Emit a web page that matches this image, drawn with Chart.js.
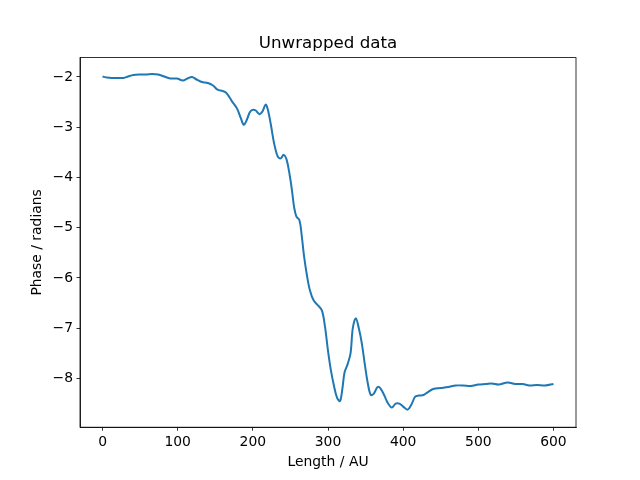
<!DOCTYPE html>
<html>
<head>
<meta charset="utf-8">
<script src="https://cdn.jsdelivr.net/npm/chart.js@4/dist/chart.umd.min.js"></script>
<style>
  html,body{margin:0;padding:0;background:#fff;}
  #wrap{width:640px;height:480px;}
</style>
</head>
<body>
<div id="wrap"><canvas id="chart" width="640" height="480"></canvas></div>
<script>
/* data */
const lengthAU = [0,6,12,20,28,34,41,50,58,66,74,82,90,99,107,113,119,125,132,140,147,153,160,165,172,179,184,188,192,197,203,209,213,217,220,224,228,233,237,241,245,249,252,255,258,262,265,268,272,276,281,287,292,296,300,304,308,312,316,319,322,326,330,333,337,341,345,349,353,357,361,366,370,375,380,385,390,395,400,406,411,416,421,427,433,440,450,460,470,480,490,500,510,518,527,539,549,559,568,578,589,600];
const phase = [-1.99,-2.01,-2.02,-2.02,-2.02,-1.99,-1.96,-1.95,-1.95,-1.94,-1.95,-1.99,-2.03,-2.03,-2.07,-2.03,-2.00,-2.05,-2.10,-2.12,-2.17,-2.25,-2.28,-2.32,-2.48,-2.63,-2.82,-2.95,-2.85,-2.68,-2.66,-2.74,-2.68,-2.55,-2.65,-2.95,-3.30,-3.58,-3.62,-3.55,-3.65,-3.95,-4.25,-4.60,-4.78,-4.85,-5.15,-5.55,-5.95,-6.25,-6.45,-6.55,-6.65,-6.97,-7.45,-7.85,-8.15,-8.38,-8.45,-8.22,-7.88,-7.72,-7.50,-7.00,-6.80,-7.00,-7.30,-7.72,-8.10,-8.33,-8.30,-8.17,-8.20,-8.34,-8.50,-8.58,-8.50,-8.50,-8.56,-8.62,-8.52,-8.36,-8.34,-8.33,-8.27,-8.21,-8.19,-8.17,-8.14,-8.14,-8.15,-8.12,-8.11,-8.10,-8.12,-8.08,-8.11,-8.11,-8.14,-8.13,-8.14,-8.11];
const xTicks = [0,100,200,300,400,500,600];
const yTicks = [-2,-3,-4,-5,-6,-7,-8];

const FONT = 'DejaVu Sans';
const minus = v => (v<0?'\u2212':'')+Math.abs(v);

// cadre + titre (style matplotlib)
const framePlugin = {
  id:'frame',
  afterDraw(chart){
    const {ctx, chartArea:a} = chart;
    ctx.save();
    ctx.strokeStyle='#000'; ctx.lineWidth=0.8;
    ctx.strokeRect(a.left, a.top, a.right-a.left, a.bottom-a.top);
    ctx.fillStyle='#000';
    ctx.font='16.7px "'+FONT+'"';
    ctx.textAlign='center'; ctx.textBaseline='middle';
    ctx.fillText('Unwrapped data', (a.left+a.right)/2, 44);
    ctx.restore();
  }
};

new Chart(document.getElementById('chart'),{
  type:'line',
  data:{
    datasets:[{
      data: lengthAU.map((x,i)=>({x, y:phase[i]})),
      borderColor:'#1f77b4', borderWidth:2,
      pointRadius:0, tension:0.35, fill:false
    }]
  },
  options:{
    responsive:false, animation:false,
    layout:{padding:{top:57.6, right:64, left:0, bottom:0}},
    plugins:{legend:{display:false}, tooltip:{enabled:false}, title:{display:false}},
    scales:{
      x:{
        type:'linear', min:-30, max:630,
        afterBuildTicks(s){ s.ticks = xTicks.map(v=>({value:v})); },
        afterFit(s){ s.height = 52.8; },
        grid:{drawOnChartArea:false, drawTicks:true, tickLength:3.5, color:'#000', lineWidth:0.8},
        border:{display:true, color:'#000', width:0.8},
        ticks:{color:'#000', padding:3.5, maxRotation:0, font:{family:FONT, size:13.9}, callback:v=>minus(v)},
        title:{display:true, text:'Length / AU', color:'#000', font:{family:FONT, size:13.9}, padding:{top:0,bottom:9.7}}
      },
      y:{
        type:'linear', min:-8.97, max:-1.614,
        afterBuildTicks(s){ s.ticks = yTicks.map(v=>({value:v})); },
        afterFit(s){ s.width = 80; },
        grid:{drawOnChartArea:false, drawTicks:true, tickLength:3.5, color:'#000', lineWidth:0.8},
        border:{display:true, color:'#000', width:0.8},
        ticks:{color:'#000', padding:3.5, font:{family:FONT, size:13.9}, callback:v=>minus(v)},
        title:{display:true, text:'Phase / radians', color:'#000', font:{family:FONT, size:13.9}, padding:{top:28.7,bottom:0}}
      }
    }
  },
  plugins:[framePlugin]
});
</script>
</body>
</html>
